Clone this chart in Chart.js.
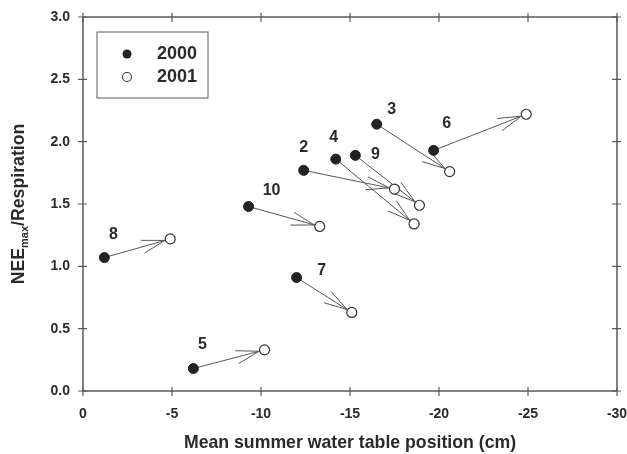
<!DOCTYPE html>
<html>
<head>
	<title>NEEmax / Respiration vs water table</title>
	<script src="https://cdn.jsdelivr.net/npm/chart.js"></script>
	<style>
		body { margin: 0; padding: 0; background: #fff; }
		#chart { display: block; }
	</style>
</head>
<body>
	<canvas id="chart" width="627" height="454"></canvas>
	<script>
		// sites and values
		var sites = ['2', '3', '4', '5', '6', '7', '8', '9', '10'];
		var wt2000 = [-12.4, -16.5, -14.2, -6.2, -19.7, -12.0, -1.2, -15.3, -9.3];
		var ratio2000 = [1.77, 2.14, 1.86, 0.18, 1.93, 0.91, 1.07, 1.89, 1.48];
		var wt2001 = [-17.5, -20.6, -18.6, -10.2, -24.9, -15.1, -4.9, -18.9, -13.3];
		var ratio2001 = [1.62, 1.76, 1.34, 0.33, 2.22, 0.63, 1.22, 1.49, 1.32];
		var xTicks = [0, -5, -10, -15, -20, -25, -30];
		var yTicks = [0, 0.5, 1.0, 1.5, 2.0, 2.5, 3.0];

		// label placement next to the 2000 points (pixels)
		var labelOffsets = [[0, -23], [15, -15], [-2, -22], [9, -24], [13, -27], [25, -7], [9, -23], [20, -1], [23, -16]];

		var axisColor = '#5a5a5a';
		var textColor = '#2a2a2a';
		var fontFam = '"Liberation Sans", Arial, sans-serif';

		function pts(xs, ys) {
			return xs.map(function (x, i) { return { x: x, y: ys[i] }; });
		}

		var decor = {
			id: 'decor',
			beforeDatasetsDraw: function (chart) {
				var ctx = chart.ctx;
				var m0 = chart.getDatasetMeta(0).data;
				var m1 = chart.getDatasetMeta(1).data;
				ctx.save();
				ctx.strokeStyle = '#555';
				ctx.lineWidth = 1;
				for (var i = 0; i < m0.length; i++) {
					var a = m0[i], b = m1[i];
					var ang = Math.atan2(b.y - a.y, b.x - a.x);
					var tx = b.x - 5.5 * Math.cos(ang), ty = b.y - 5.5 * Math.sin(ang);
					ctx.beginPath();
					ctx.moveTo(a.x, a.y);
					ctx.lineTo(tx, ty);
					var L = 24, w = 16 * Math.PI / 180;
					ctx.moveTo(tx - L * Math.cos(ang - w), ty - L * Math.sin(ang - w));
					ctx.lineTo(tx, ty);
					ctx.lineTo(tx - L * Math.cos(ang + w), ty - L * Math.sin(ang + w));
					ctx.stroke();
				}
				ctx.restore();
			},
			afterDraw: function (chart) {
				var ctx = chart.ctx;
				var ca = chart.chartArea;
				var xs = chart.scales.x, ys = chart.scales.y;
				ctx.save();
				// frame
				ctx.strokeStyle = axisColor;
				ctx.lineWidth = 1.5;
				ctx.strokeRect(ca.left, ca.top, ca.right - ca.left, ca.bottom - ca.top);
				ctx.lineWidth = 1.2;
				ctx.beginPath();
				xTicks.forEach(function (v) {
					var p = xs.getPixelForValue(v);
					ctx.moveTo(p, ca.bottom - 4); ctx.lineTo(p, ca.bottom + 5);
					ctx.moveTo(p, ca.top - 4); ctx.lineTo(p, ca.top + 5);
				});
				yTicks.forEach(function (v) {
					var p = ys.getPixelForValue(v);
					ctx.moveTo(ca.left - 5, p); ctx.lineTo(ca.left + 4, p);
					ctx.moveTo(ca.right - 5, p); ctx.lineTo(ca.right + 4, p);
				});
				ctx.stroke();

				// site labels
				ctx.fillStyle = textColor;
				ctx.font = 'bold 16px ' + fontFam;
				ctx.textAlign = 'center';
				ctx.textBaseline = 'middle';
				var m0 = chart.getDatasetMeta(0).data;
				m0.forEach(function (el, i) {
					ctx.fillText(sites[i], el.x + labelOffsets[i][0], el.y + labelOffsets[i][1]);
				});

				// legend
				var lx = 97, ly = 32, lw = 111, lh = 66;
				ctx.strokeStyle = axisColor;
				ctx.lineWidth = 1;
				ctx.strokeRect(lx, ly, lw, lh);
				ctx.font = 'bold 18px ' + fontFam;
				ctx.textAlign = 'left';
				ctx.beginPath();
				ctx.arc(lx + 30, ly + 22, 4.5, 0, Math.PI * 2);
				ctx.fillStyle = '#222';
				ctx.fill();
				ctx.beginPath();
				ctx.arc(lx + 30, ly + 45, 4.5, 0, Math.PI * 2);
				ctx.fillStyle = '#fff';
				ctx.fill();
				ctx.strokeStyle = '#333';
				ctx.lineWidth = 1.1;
				ctx.stroke();
				ctx.fillStyle = textColor;
				ctx.fillText(chart.data.datasets[0].label, lx + 60, ly + 22);
				ctx.fillText(chart.data.datasets[1].label, lx + 60, ly + 45);

				// axis titles
				ctx.font = 'bold 17.7px ' + fontFam;
				ctx.textAlign = 'center';
				ctx.fillText('Mean summer water table position (cm)', (ca.left + ca.right) / 2, 443);

				ctx.translate(19, (ca.top + ca.bottom) / 2);
				ctx.rotate(-Math.PI / 2);
				var big = 'bold 17.7px ' + fontFam, small = 'bold 11px ' + fontFam;
				ctx.font = big; var w1 = ctx.measureText('NEE').width;
				var w3 = ctx.measureText('/Respiration').width;
				ctx.font = small; var w2 = ctx.measureText('max').width;
				var x0 = -(w1 + w2 + w3) / 2;
				ctx.textAlign = 'left';
				ctx.font = big; ctx.fillText('NEE', x0, 0);
				ctx.font = small; ctx.fillText('max', x0 + w1, 6);
				ctx.font = big; ctx.fillText('/Respiration', x0 + w1 + w2, 0);
				ctx.restore();
			}
		};

		var ctx1 = document.getElementById('chart').getContext('2d');
		var chart1 = new Chart(ctx1, {
			type: 'scatter',
			data: {
				datasets: [
					{
						label: '2000',
						data: pts(wt2000, ratio2000),
						pointRadius: 5,
						pointBackgroundColor: '#222',
						pointBorderColor: '#222',
						pointBorderWidth: 1
					},
					{
						label: '2001',
						data: pts(wt2001, ratio2001),
						pointRadius: 5,
						pointBackgroundColor: '#fff',
						pointBorderColor: '#333',
						pointBorderWidth: 1.2
					}
				]
			},
			options: {
				responsive: false,
				animation: false,
				events: [],
				layout: { padding: { left: 0, right: 10, top: 17, bottom: 0 } },
				plugins: {
					legend: { display: false },
					tooltip: { enabled: false }
				},
				scales: {
					x: {
						type: 'linear',
						min: -30,
						max: 0,
						reverse: true,
						grid: { display: false, drawTicks: false },
						border: { display: false },
						afterFit: function (s) { s.height = 63; s.paddingLeft = 0; s.paddingRight = 0; },
						afterBuildTicks: function (s) { s.ticks = xTicks.map(function (v) { return { value: v }; }); },
						ticks: {
							padding: 15,
							color: textColor,
							font: { family: fontFam, size: 14, weight: 'bold' },
							maxRotation: 0,
							callback: function (v) { return String(v); }
						}
					},
					y: {
						type: 'linear',
						min: 0,
						max: 3,
						grid: { display: false, drawTicks: false },
						border: { display: false },
						afterFit: function (s) { s.width = 83; s.paddingTop = 0; s.paddingBottom = 0; },
						afterBuildTicks: function (s) { s.ticks = yTicks.map(function (v) { return { value: v }; }); },
						ticks: {
							padding: 13,
							color: textColor,
							font: { family: fontFam, size: 14, weight: 'bold' },
							callback: function (v) { return v.toFixed(1); }
						}
					}
				}
			},
			plugins: [decor]
		});
	</script>
</body>
</html>
